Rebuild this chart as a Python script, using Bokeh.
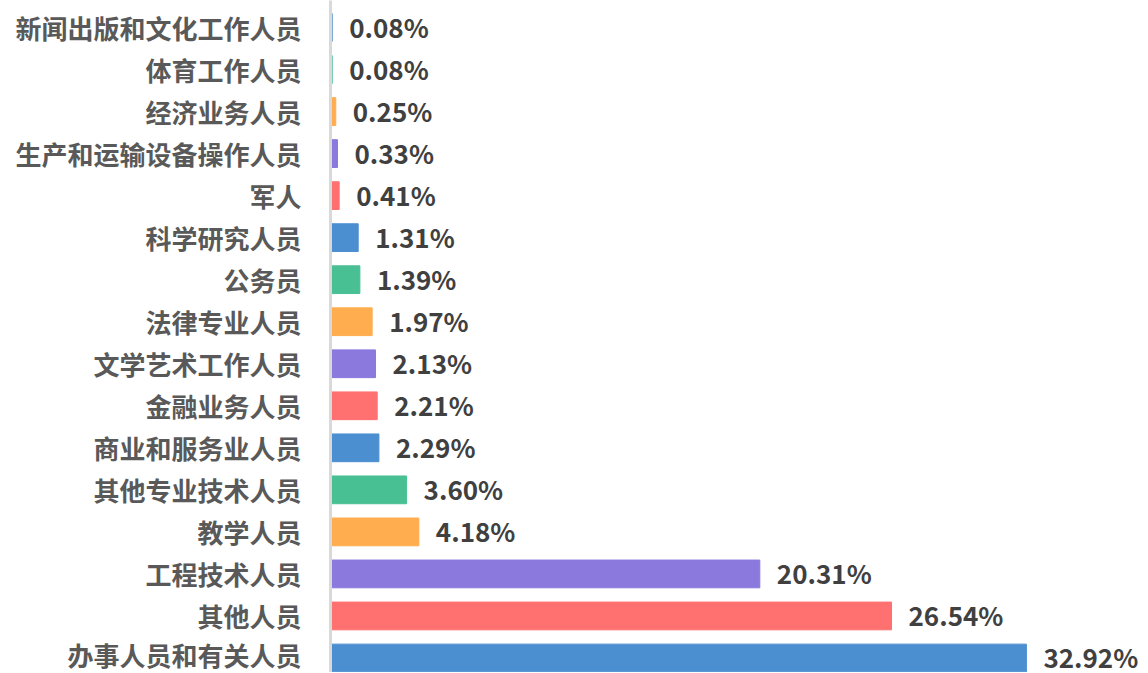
from bokeh.plotting import figure
from bokeh.models import Range1d, ColumnDataSource, FixedTicker
from bokeh.core.properties import value
from bokeh.embed import file_html
from bokeh.resources import INLINE

# bottom to top
categories = ["办事人员和有关人员", "其他人员", "工程技术人员", "教学人员", "其他专业技术人员",
              "商业和服务业人员", "金融业务人员", "文学艺术工作人员", "法律专业人员", "公务员",
              "科学研究人员", "军人", "生产和运输设备操作人员", "经济业务人员", "体育工作人员",
              "新闻出版和文化工作人员"]
values = [32.92, 26.54, 20.31, 4.18, 3.60, 2.29, 2.21, 2.13, 1.97, 1.39, 1.31, 0.41, 0.33, 0.25, 0.08, 0.08]
palette = ["#4C8FD0", "#FF7070", "#8B79DE", "#FFAD4F", "#49BF94"]

ypos = list(range(len(categories)))
colors = [palette[i % len(palette)] for i in ypos]
labels = ["%.2f%%" % v for v in values]

src = ColumnDataSource(dict(y=ypos, v=values, c=colors, lab=labels))

p = figure(width=1147, height=672, output_backend="svg", toolbar_location=None,
           x_range=Range1d(0, 38.65), y_range=Range1d(-0.345, 15.642),
           min_border_left=330, min_border_right=0, min_border_top=0, min_border_bottom=0)
p.hbar(y="y", right="v", left=0, height=0.66, color="c", source=src)
p.text(x="v", y="y", text="lab", source=src, x_offset=17, y_offset=-1, text_baseline="middle",
       text_align="left", text_font=value("Noto Sans CJK SC"), text_font_style="bold",
       text_font_size="26px", text_line_height=1.0, text_color="#404040")

p.xaxis.visible = False
p.grid.visible = False
p.outline_line_color = None
ya = p.yaxis[0]
ya.ticker = FixedTicker(ticks=ypos)
ya.major_label_overrides = {i: c for i, c in enumerate(categories)}
ya.major_tick_line_color = None
ya.minor_tick_line_color = None
ya.axis_line_color = "#D9D9D9"
ya.axis_line_width = 3
ya.major_label_standoff = 23
ya.major_label_text_font = "Noto Sans CJK SC"
ya.major_label_text_font_style = "bold"
ya.major_label_text_font_size = "26px"
ya.major_label_text_color = "#595959"

open("out.html", "w").write(file_html(p, INLINE))
